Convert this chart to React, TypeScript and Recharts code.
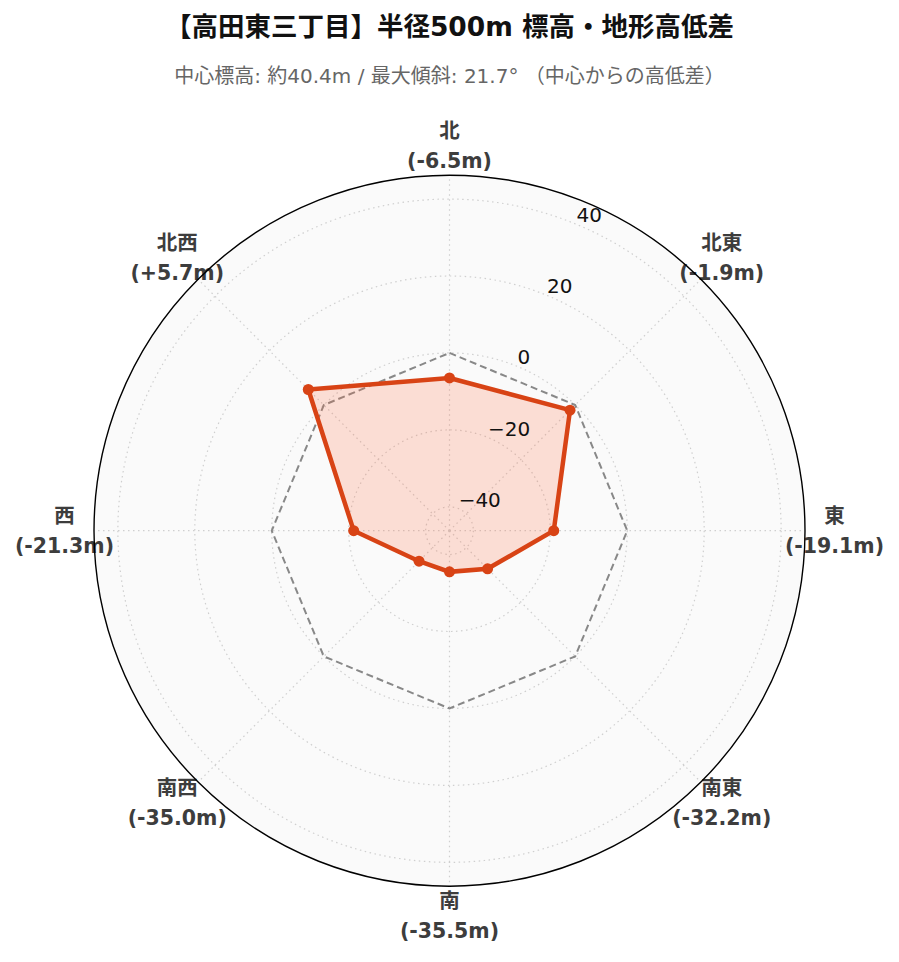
import { RadarChart, Radar, PolarGrid, PolarAngleAxis, PolarRadiusAxis } from "recharts";

const directions = ["北", "北東", "東", "南東", "南", "南西", "西", "北西"];
const elevationDiffs = [-6.5, -1.9, -19.1, -32.2, -35.5, -35.0, -21.3, 5.7];
const baseline = [0, 0, 0, 0, 0, 0, 0, 0];
const radiusTicks = [-40, -20, 0, 20, 40];
const radiusDomain = [-46.2, 46.2];

const TITLE = "【高田東三丁目】半径500m 標高・地形高低差";
const SUBTITLE = "中心標高: 約40.4m / 最大傾斜: 21.7° （中心からの高低差）";

const W = 899;
const H = 962;
const CX = 449.5;
const CY = 530.7;
const R = 355.5;
const LABEL_R = 385;

const FONT = "'DejaVu Sans', 'Noto Sans CJK JP', sans-serif";
const RED = "#d84315";

const chartData = directions.map((dir, i) => ({
  dir,
  diff: elevationDiffs[i],
  base: baseline[i],
}));

function fmtDiff(v: number) {
  return `(${v > 0 ? "+" : ""}${v.toFixed(1)}m)`;
}

function AngleTick(props: any) {
  const { payload, index } = props;
  const rad = (-payload.coordinate * Math.PI) / 180;
  const x = CX + LABEL_R * Math.cos(rad);
  const y = CY + LABEL_R * Math.sin(rad);
  const v = elevationDiffs[index];
  return (
    <g>
      <text
        x={x}
        y={y - 15}
        textAnchor="middle"
        dominantBaseline="central"
        fontFamily={FONT}
        fontWeight="bold"
        fontSize={20.5}
        fill="#3d3d3d"
      >
        {payload.value}
      </text>
      <text
        x={x}
        y={y + 15}
        textAnchor="middle"
        dominantBaseline="central"
        fontFamily={FONT}
        fontWeight="bold"
        fontSize={20.5}
        fill="#3d3d3d"
      >
        {fmtDiff(v)}
      </text>
    </g>
  );
}

function RadiusTick(props: any) {
  const { x, y, payload } = props;
  const label = String(payload.value).replace("-", "\u2212");
  return (
    <text x={x} y={y - 2} textAnchor="start" fontFamily={FONT} fontSize={20} fill="#111">
      {label}
    </text>
  );
}

function RedDot(props: any) {
  const { cx, cy, index } = props;
  return <circle key={`d-${index}`} cx={cx} cy={cy} r={5.5} fill={RED} stroke="none" />;
}

export default function App() {
  return (
    <div style={{ position: "absolute", left: 0, top: 0, width: W, height: H, background: "#fff" }}>
      <div
        style={{
          position: "absolute",
          left: 0,
          top: 9,
          width: W,
          textAlign: "center",
          fontFamily: FONT,
          fontWeight: "bold",
          fontSize: 26.5,
          color: "#111",
          lineHeight: "36px",
        }}
      >
        {TITLE}
      </div>
      <div
        style={{
          position: "absolute",
          left: 0,
          top: 62,
          width: W,
          textAlign: "center",
          fontFamily: FONT,
          fontSize: 20,
          color: "#666",
          lineHeight: "28px",
        }}
      >
        {SUBTITLE}
      </div>
      <svg width={W} height={H} style={{ position: "absolute", left: 0, top: 0 }}>
        <circle cx={CX} cy={CY} r={R} fill="#fafafa" stroke="none" />
      </svg>
      <div style={{ position: "absolute", left: 0, top: 0 }}>
        <RadarChart
          width={W}
          height={H}
          data={chartData}
          cx={CX}
          cy={CY}
          outerRadius={R}
          margin={{ top: 0, right: 0, bottom: 0, left: 0 }}
        >
          <PolarGrid gridType="circle" stroke="#cfcfcf" strokeDasharray="1.5 3.5" strokeWidth={1.2} />
          <PolarAngleAxis dataKey="dir" tick={AngleTick} tickLine={false} axisLine={false} />
          <PolarRadiusAxis
            angle={67.5}
            domain={radiusDomain}
            ticks={radiusTicks}
            type="number"
            axisLine={false}
            tickLine={false}
            tick={RadiusTick}
            allowDataOverflow
          />
          <Radar
            dataKey="base"
            stroke="#888888"
            strokeWidth={2}
            strokeDasharray="7 4"
            fill="none"
            fillOpacity={0}
            dot={false}
            isAnimationActive={false}
          />
          <Radar
            dataKey="diff"
            stroke={RED}
            strokeWidth={4.5}
            fill="#ff6a3d"
            fillOpacity={0.2}
            dot={RedDot}
            isAnimationActive={false}
          />
        </RadarChart>
      </div>
      <svg width={W} height={H} style={{ position: "absolute", left: 0, top: 0, pointerEvents: "none" }}>
        <circle cx={CX} cy={CY} r={R} fill="none" stroke="#000" strokeWidth={1.4} />
      </svg>
    </div>
  );
}
